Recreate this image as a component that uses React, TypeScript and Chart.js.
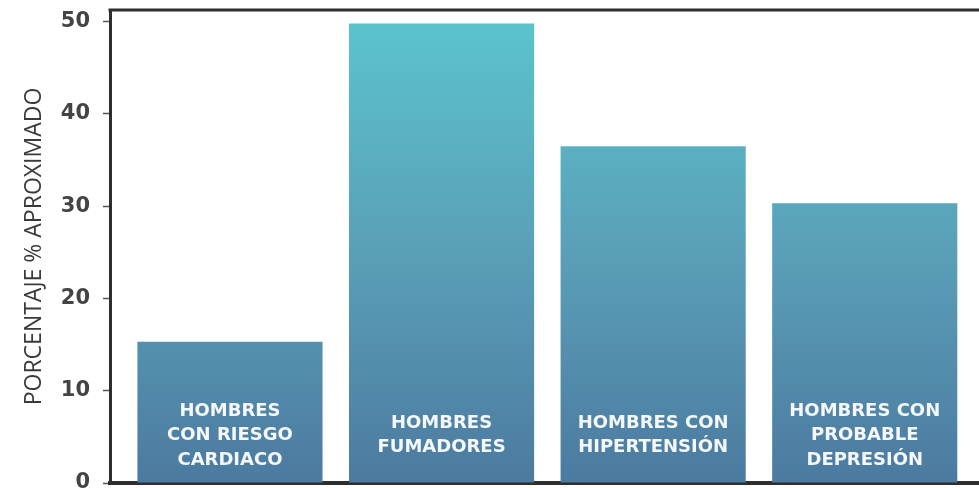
import React, { useEffect, useRef } from "react";
import { Chart, registerables } from "chart.js";

Chart.register(...registerables);

const categories: string[][] = [
  ["HOMBRES", "CON RIESGO", "CARDIACO"],
  ["HOMBRES", "FUMADORES"],
  ["HOMBRES CON", "HIPERTENSIÓN"],
  ["HOMBRES CON", "PROBABLE", "DEPRESIÓN"],
];
const values: number[] = [15.3, 49.8, 36.5, 30.3];
const yTicks: number[] = [0, 10, 20, 30, 40, 50];
const yTitle = "PORCENTAJE % APROXIMADO";

const frameColor = "#2e2e2e";

const innerLabels = {
  id: "innerLabels",
  afterDatasetsDraw(chart: any) {
    const ctx = chart.ctx;
    const meta = chart.getDatasetMeta(0);
    ctx.save();
    ctx.fillStyle = "#f4f8fb";
    ctx.textAlign = "center";
    ctx.textBaseline = "middle";
    ctx.font = "bold 18px 'DejaVu Sans', sans-serif";
    const lineH = 24.5;
    const centerY = chart.scales.y.getPixelForValue(5.15);
    meta.data.forEach((bar: any, i: number) => {
      const lines = categories[i];
      const start = centerY - ((lines.length - 1) * lineH) / 2;
      lines.forEach((ln, j) => ctx.fillText(ln, bar.x, start + j * lineH));
    });
    ctx.restore();
  },
};

const topFrame = {
  id: "topFrame",
  afterDraw(chart: any) {
    const { ctx, chartArea, width } = chart;
    ctx.save();
    ctx.strokeStyle = frameColor;
    ctx.lineWidth = 3;
    ctx.beginPath();
    ctx.moveTo(chartArea.left - 1.5, chartArea.top);
    ctx.lineTo(width, chartArea.top);
    ctx.stroke();
    ctx.restore();
  },
};

export default function App() {
  const ref = useRef<HTMLCanvasElement | null>(null);
  useEffect(() => {
    document.body.style.margin = "0";
    if (!ref.current) return;
    const chart = new Chart(ref.current, {
      type: "bar",
      data: {
        datasets: [
          {
            data: values.map((v, i) => ({ x: i, y: v })),
            backgroundColor: (c: any) => {
              const area = c.chart.chartArea;
              if (!area) return "#5aa0b8";
              const g = c.chart.ctx.createLinearGradient(0, area.top, 0, area.bottom);
              g.addColorStop(0, "#5bc5ce");
              g.addColorStop(0.5, "#5aa0b8");
              g.addColorStop(1, "#4c7aa0");
              return g;
            },
            borderWidth: 0,
            categoryPercentage: 1,
            barPercentage: 0.875,
          },
        ],
      },
      options: {
        responsive: false,
        animation: false,
        layout: { padding: { top: 10, bottom: 5, left: 0, right: 0 } },
        plugins: { legend: { display: false }, tooltip: { enabled: false }, title: { display: false } },
        scales: {
          x: {
            type: "linear",
            offset: false,
            min: -0.567,
            max: 3.54,
            afterBuildTicks: (s: any) => {
              s.ticks = values.map((_, i) => ({ value: i }));
            },
            grid: { display: false, offset: false },
            ticks: { display: false },
            border: { display: true, color: frameColor, width: 4 },
            afterFit: (s: any) => {
              s.height = 0;
              s.paddingLeft = 0;
              s.paddingRight = 0;
            },
          },
          y: {
            min: 0,
            max: 51.25,
            afterBuildTicks: (s: any) => {
              s.ticks = yTicks.map((v) => ({ value: v }));
            },
            afterFit: (s: any) => {
              s.width = 110;
              s.paddingTop = 0;
              s.paddingBottom = 0;
            },
            grid: {
              drawOnChartArea: false,
              drawTicks: true,
              tickLength: 7,
              tickWidth: 1.5,
              tickColor: "#555",
            },
            border: { display: true, color: frameColor, width: 3 },
            ticks: {
              padding: 13,
              color: "#444444",
              font: { family: "'DejaVu Sans', sans-serif", size: 21, weight: "bold" },
            },
            title: {
              display: true,
              text: yTitle,
              color: "#3a3a3a",
              padding: { top: 21, bottom: 0 },
              font: { family: "'Open Sans', sans-serif", size: 23, weight: "500" },
            },
          },
        },
      },
      plugins: [innerLabels, topFrame],
    });
    return () => chart.destroy();
  }, []);
  return (
    <div style={{ width: 979, height: 488, background: "#fff" }}>
      <canvas ref={ref} width={979} height={488} style={{ width: 979, height: 488, display: "block" }} />
    </div>
  );
}
